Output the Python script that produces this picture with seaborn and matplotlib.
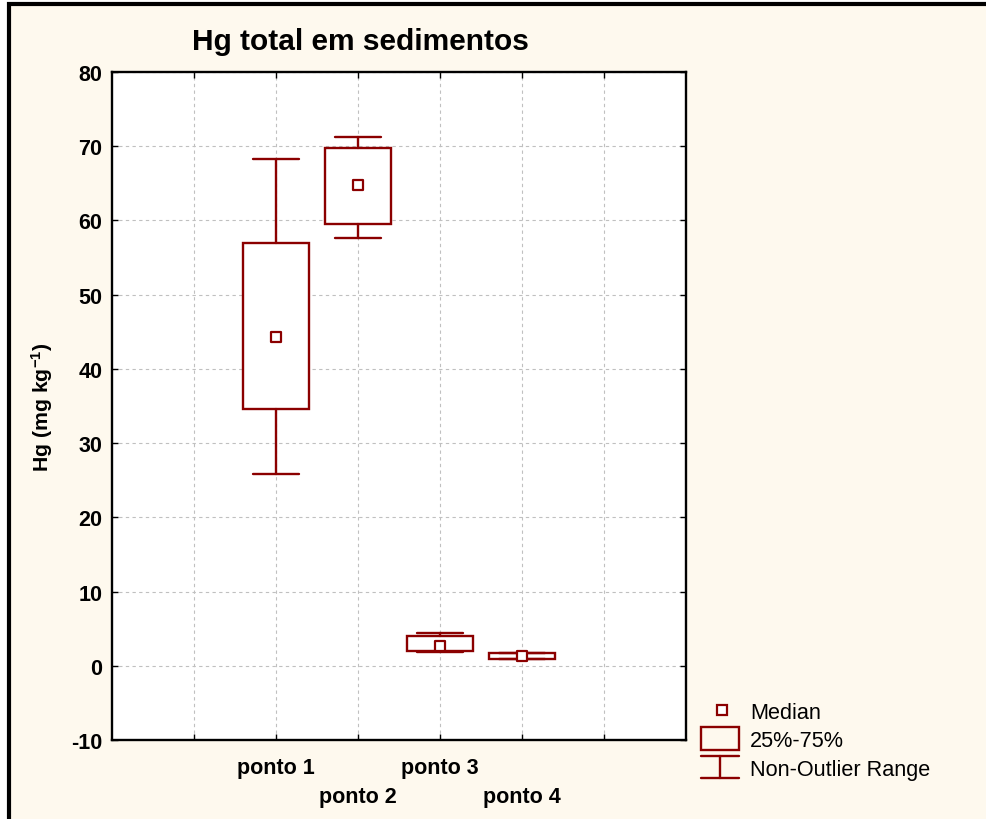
import matplotlib
matplotlib.use("Agg")
import matplotlib.pyplot as plt
import matplotlib.transforms as mtransforms
from matplotlib.patches import Rectangle
from matplotlib.lines import Line2D
import seaborn as sns
import pandas as pd

# Summary statistics of total Hg in sediments (mg/kg)
categories = ["ponto 1", "ponto 2", "ponto 3", "ponto 4"]
whisker_low = [25.8, 57.6, 1.86, 0.91]
q1 = [34.6, 59.5, 1.95, 0.91]
median = [44.3, 64.8, 2.7, 1.36]
q3 = [57.0, 69.7, 4.05, 1.76]
whisker_high = [68.3, 71.3, 4.42, 1.76]
y_ticks = [-10, 0, 10, 20, 30, 40, 50, 60, 70, 80]

W, H = 986, 820
RED = "#8B0000"
CREAM = "#FEF9EE"

sns.set_style("ticks")
plt.rcParams["font.family"] = ["Liberation Sans", "DejaVu Sans"]
plt.rcParams["mathtext.fontset"] = "custom"
plt.rcParams["mathtext.rm"] = "Liberation Sans"
plt.rcParams["mathtext.bf"] = "Liberation Sans:bold"
plt.rcParams["text.color"] = "black"
plt.rcParams["xtick.color"] = "black"
plt.rcParams["ytick.color"] = "black"
plt.rcParams["xtick.labelcolor"] = "black"
plt.rcParams["ytick.labelcolor"] = "black"

fig = plt.figure(figsize=(W / 100, H / 100), dpi=100, facecolor="white")

# pixel coordinates measured from the top-left corner of the figure
px = mtransforms.Affine2D().scale(1 / W, -1 / H).translate(0, 1) + fig.transFigure

# cream panel with a black frame
fig.add_artist(Rectangle((9, 5), 1200, 1200, transform=px, facecolor=CREAM,
                         edgecolor="black", linewidth=3.0, zorder=-10))

ax = fig.add_axes([112 / W, (H - 741) / H, (686 - 112) / W, (741 - 73) / H])
ax.set_facecolor("white")

positions = [i + 2 for i in range(len(categories))]
stats = [
    dict(label=c, whislo=lo, q1=a, med=m, q3=b, whishi=hi, fliers=[])
    for c, lo, a, m, b, hi in zip(categories, whisker_low, q1, median, q3, whisker_high)
]
ax.bxp(stats, positions=positions, widths=0.8, showfliers=False, patch_artist=True,
       boxprops=dict(facecolor="white", edgecolor=RED, linewidth=1.7),
       whiskerprops=dict(color=RED, linewidth=1.7),
       capprops=dict(color=RED, linewidth=1.7),
       medianprops=dict(linewidth=0),
       capwidths=0.57, manage_ticks=False, zorder=3)

med_df = pd.DataFrame({"pos": positions, "median": median})
sns.scatterplot(data=med_df, x="pos", y="median", marker="s", s=52,
                facecolor="white", edgecolor=RED, linewidth=1.6, zorder=4, ax=ax,
                legend=False)

ax.set_xlim(0, 7)
ax.set_ylim(-10, 80)
ax.set_xticks(range(1, 7))
ax.set_xticklabels(["", "ponto 1", "\nponto 2", "ponto 3", "\nponto 4", ""],
                   fontsize=15.5, fontweight="bold")
for lab in ax.get_xticklabels():
    lab.set_linespacing(1.52)
ax.set_yticks(y_ticks)
ax.set_yticklabels([str(v) for v in y_ticks], fontsize=15.5, fontweight="bold")
ax.set_xlabel("")
ax.set_ylabel("")

ax.grid(True, color="#c0c0c0", linestyle=(0, (3, 3)), linewidth=0.8, zorder=0)
ax.set_axisbelow(True)
ax.tick_params(direction="in", length=4, width=1, top=True, right=True,
               colors="black", pad=7)
ax.tick_params(axis="x", pad=12)
for s in ax.spines.values():
    s.set_visible(True)
    s.set_linewidth(1.7)
    s.set_color("black")

fig.text(360 / W, 1 - 50 / H, "Hg total em sedimentos", ha="center", va="baseline",
         fontsize=21.5, fontweight="bold")
fig.text(42 / W, 1 - 407 / H, r"Hg (mg kg$\mathbf{^{-1}}$)", rotation=90,
         ha="center", va="center", fontsize=15.3, fontweight="bold")

# legend keys
fig.add_artist(Line2D([721.5], [711], transform=px, marker="s", markersize=7.5,
                      markerfacecolor="white", markeredgecolor=RED, markeredgewidth=1.6,
                      linestyle="none"))
fig.add_artist(Rectangle((701, 728), 38, 22.5, transform=px, facecolor="none",
                         edgecolor=RED, linewidth=1.7))
fig.add_artist(Line2D([701, 739], [757, 757], transform=px, color=RED, linewidth=1.7))
fig.add_artist(Line2D([701, 739], [779, 779], transform=px, color=RED, linewidth=1.7))
fig.add_artist(Line2D([720, 720], [757, 779], transform=px, color=RED, linewidth=1.7))
for txt, yb in [("Median", 719), ("25%-75%", 747), ("Non-Outlier Range", 776)]:
    fig.text(750 / W, 1 - yb / H, txt, ha="left", va="baseline", fontsize=15.6)

fig.savefig("out.png", dpi=100, facecolor="white")
